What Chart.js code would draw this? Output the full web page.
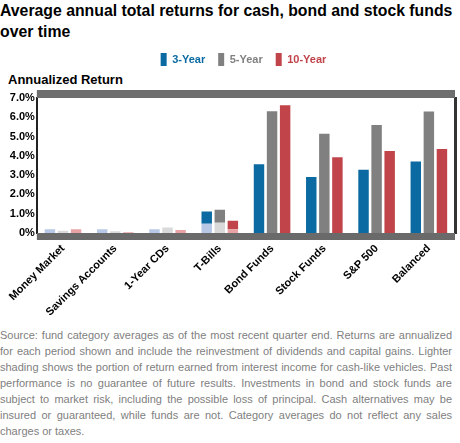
<!DOCTYPE html>
<html>
<head>
<meta charset="utf-8">
<script src="https://cdn.jsdelivr.net/npm/chart.js@4.4.1/dist/chart.umd.min.js"></script>
<style>
  html, body { margin: 0; padding: 0; background: #ffffff; }
  body { width: 460px; height: 443px; position: relative; overflow: hidden; font-family: "Liberation Sans", Arial, sans-serif; }
  #title { position: absolute; left: 0; top: 0; width: 460px; font-size: 15.8px; font-weight: bold; line-height: 21px; color: #000; white-space: nowrap; }
  #ytitle { position: absolute; left: 8px; top: 72px; font-size: 13px; font-weight: bold; color: #000; line-height: 15px; }
  #wrap { position: absolute; left: 0; top: 40px; width: 460px; height: 281px; }
  #note { position: absolute; left: 0; top: 327px; width: 452px; font-size: 11px; line-height: 16px; color: #808080; text-align: justify; }
</style>
</head>
<body>
<div id="title">Average annual total returns for cash, bond and stock funds<br>over time</div>
<div id="ytitle">Annualized Return</div>
<div id="wrap"><canvas id="c"></canvas></div>
<div id="note">Source: fund category averages as of the most recent quarter end. Returns are annualized for each period shown and include the reinvestment of dividends and capital gains. Lighter shading shows the portion of return earned from interest income for cash-like vehicles. Past performance is no guarantee of future results. Investments in bond and stock funds are subject to market risk, including the possible loss of principal. Cash alternatives may be insured or guaranteed, while funds are not. Category averages do not reflect any sales charges or taxes.</div>
<script>
const categories = ["Money Market", "Savings Accounts", "1-Year CDs", "T-Bills", "Bond Funds", "Stock Funds", "S&P 500", "Balanced"];
const seriesNames = ["3-Year", "5-Year", "10-Year"];
const threeYear = [null, null, null, 0.64, 3.57, 2.91, 3.28, 3.71];
const fiveYear  = [null, null, null, 0.67, 6.31, 5.15, 5.60, 6.30];
const tenYear   = [null, null, null, 0.44, 6.63, 3.93, 4.25, 4.35];
const threeYearLight = [0.20, 0.20, 0.20, 0.48, null, null, null, null];
const fiveYearLight  = [0.12, 0.09, 0.29, 0.53, null, null, null, null];
const tenYearLight   = [0.19, 0.04, 0.15, 0.20, null, null, null, null];
const yTickLabels = ["0%", "1.0%", "2.0%", "3.0%", "4.0%", "5.0%", "6.0%", "7.0%"];

const colors = ["#0a6aa1", "#808080", "#c0444a"];
const lightColors = ["#b7c8e6", "#d9d9d9", "#eaa3a5"];

const framePlugin = {
  id: 'frame',
  beforeInit(chart) {
    const lg = chart.legend;
    if (lg) {
      const orig = lg.fit.bind(lg);
      lg.fit = function () { orig(); this.height += 22; };
    }
  },
  afterLayout(chart) {
    const lg = chart.legend;
    if (lg) { lg.left += 15; lg.right += 15; }
  },
  beforeDatasetsDraw(chart) {
    const {ctx, chartArea: a} = chart;
    ctx.save();
    ctx.fillStyle = '#6e6e6e';
    ctx.fillRect(a.left, a.top - 8, a.right - a.left, 8);
    ctx.fillStyle = '#6a6a6a';
    ctx.fillRect(a.left, a.bottom, a.right - a.left, 7);
    ctx.restore();
  }
};

const mk = (label, data, color, stack) => ({
  label, data, backgroundColor: color, stack,
  categoryPercentage: 0.75, barPercentage: 0.8, borderWidth: 0
});

new Chart(document.getElementById('c'), {
  type: 'bar',
  data: {
    labels: categories,
    datasets: [
      mk('l3', threeYearLight, lightColors[0], 'a'),
      mk('l5', fiveYearLight, lightColors[1], 'b'),
      mk('l10', tenYearLight, lightColors[2], 'c'),
      mk(seriesNames[0], threeYear, colors[0], 'a'),
      mk(seriesNames[1], fiveYear, colors[1], 'b'),
      mk(seriesNames[2], tenYear, colors[2], 'c')
    ]
  },
  options: {
    responsive: true,
    maintainAspectRatio: false,
    animation: false,
    layout: { padding: { left: 0, right: 3, top: 0, bottom: 0 } },
    plugins: {
      tooltip: { enabled: false },
      legend: {
        display: true,
        position: 'top',
        labels: {
          boxWidth: 6, boxHeight: 13, padding: 13,
          font: { family: "Liberation Sans", size: 11, weight: 'bold' },
          filter: (item) => item.datasetIndex >= 3,
          generateLabels(chart) {
            return chart.data.datasets.map((d, i) => ({
              text: d.label, fillStyle: d.backgroundColor, strokeStyle: d.backgroundColor,
              fontColor: d.backgroundColor, lineWidth: 0, datasetIndex: i, hidden: false
            }));
          }
        }
      }
    },
    scales: {
      x: {
        stacked: true,
        grid: { display: false, drawTicks: false },
        border: { display: true, color: '#222', width: 1 },
        ticks: {
          color: '#000', maxRotation: 45, minRotation: 45, padding: 9,
          font: { family: "Liberation Sans", size: 11, weight: 'bold' }
        },
        afterFit(s) { s.height = 88; }
      },
      y: {
        stacked: true,
        min: 0, max: 7,
        grid: { display: false, drawTicks: false },
        border: { display: true, color: '#222', width: 2 },
        ticks: {
          stepSize: 1, color: '#000', padding: 2,
          font: { family: "Liberation Sans", size: 11, weight: 'bold' },
          callback: (v, i) => yTickLabels[i]
        },
        afterFit(s) { s.width = 34; }
      },
      y2: {
        position: 'right',
        min: 0, max: 7,
        grid: { display: false, drawTicks: false },
        border: { display: true, color: '#333', width: 3 },
        ticks: { display: false },
        afterFit(s) { s.width = 2; }
      }
    }
  },
  plugins: [framePlugin]
});
</script>
</body>
</html>
